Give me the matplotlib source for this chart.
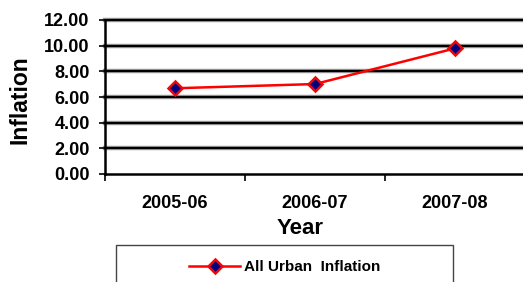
import matplotlib
matplotlib.use("Agg")
import matplotlib.pyplot as plt
from matplotlib.lines import Line2D
from matplotlib.patches import Rectangle

categories = ["2005-06", "2006-07", "2007-08"]
inflation = [6.68, 7.01, 9.79]
yticks = [0, 2, 4, 6, 8, 10, 12]
series_name = "All Urban  Inflation"

plt.rcParams['font.family'] = ['Liberation Sans', 'DejaVu Sans']
plt.rcParams['font.weight'] = 'bold'

W, H = 523, 282
fig = plt.figure(figsize=(W/100, H/100), dpi=100)
ax = fig.add_axes([105/W, 1 - 174/H, 420/W, 154/H])

x = list(range(len(categories)))
ax.set_xlim(-0.5, len(categories) - 0.5)
ax.set_ylim(0, 12)

for yv in yticks[1:]:
    ax.axhline(yv, color='#a0a0a0', lw=3.2, zorder=1, clip_on=False)
    ax.axhline(yv, color='black', lw=1.6, zorder=2, clip_on=False)

ax.plot(x, inflation, color='red', lw=1.8, marker='D', markersize=7,
        markerfacecolor='#000080', markeredgecolor='red', markeredgewidth=1.8,
        zorder=5, clip_on=False)

ax.set_yticks(yticks)
ax.set_yticklabels([f"{v:.2f}" for v in yticks], fontsize=13, fontweight='bold')
ax.set_xticks([-0.5, 0.5, 1.5, 2.5])
ax.set_xticklabels([])
ax.set_xticks(x, minor=True)
ax.set_xticklabels(categories, minor=True, fontsize=13, fontweight='bold')
ax.tick_params(axis='x', which='minor', length=0, pad=15)
ax.tick_params(axis='x', which='major', length=5, width=1.2, direction='out')
ax.tick_params(axis='y', length=4.5, width=1.2, pad=6.5)

for s in ['top', 'right']:
    ax.spines[s].set_visible(False)
ax.spines['left'].set_linewidth(1.8)
ax.spines['bottom'].set_linewidth(1.8)

fig.text(20.5/W, 1 - 99.5/H, "Inflation", rotation=90, fontsize=16.5, fontweight='bold',
         ha='center', va='center')
fig.text(300/W, 1 - 229/H, "Year", fontsize=16, fontweight='bold', ha='center', va='center')

# legend box
fig.patches.append(Rectangle((116/W, -0.05), (453-116)/W, 1 - 245/H + 0.05,
                             transform=fig.transFigure, fill=False, edgecolor='#444444', lw=1.0))
h = Line2D([], [], color='red', lw=1.8, marker='D', markersize=7,
           markerfacecolor='#000080', markeredgecolor='red', markeredgewidth=1.8)
fig.legend([h], [series_name], loc='center', bbox_to_anchor=(285/W, 1 - 267/H),
           frameon=False, prop={'weight': 'bold', 'size': 11},
           handlelength=3.3, handletextpad=0.3)

fig.savefig("out.png", dpi=100)
